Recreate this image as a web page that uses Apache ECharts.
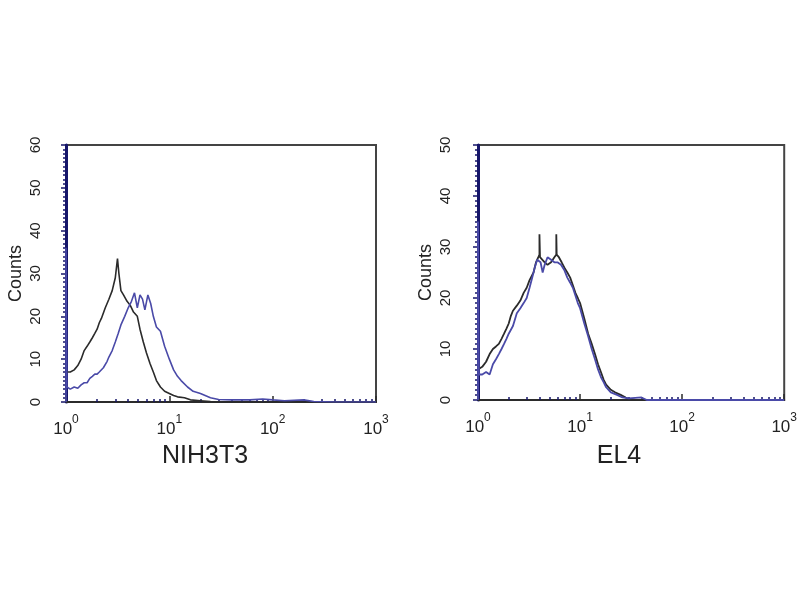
<!DOCTYPE html>
<html><head><meta charset="utf-8">
<script src="https://cdn.jsdelivr.net/npm/echarts@6/dist/echarts.min.js"></script>
<style>html,body{margin:0;padding:0;background:#fff}#c{width:800px;height:600px}</style>
</head><body><div id="c"></div>
<script>
// ---- data ----
const panelTitles = ['NIH3T3', 'EL4'];
const xDecades = [1, 10, 100, 1000];
const minorTickVals = [2,3,4,5,6,7,8,9,20,30,40,50,60,70,80,90,200,300,400,500,600,700,800,900];
const yMaxLeft = 60, yMaxRight = 50;

const nihBlack = [[1,7],[1.1,7],[1.2,7.5],[1.3,8.5],[1.4,10],[1.5,12],[1.6,13],[1.7,14],[1.8,15],[1.9,16],[2.0,17],[2.1,18.5],[2.2,19.5],[2.4,22],[2.6,24],[2.8,26],[3.0,29],[3.1,32],[3.15,33.5],[3.25,30],[3.4,26],[3.6,25],[3.9,23.5],[4.2,22.5],[4.5,21],[4.9,20],[5.2,17],[5.6,14],[6.0,11.5],[6.5,9],[7,7],[7.5,5],[8.2,3.5],[9,2.5],[10,2],[11,1.5],[12,1.2],[14,1],[16,0.5],[20,0.3],[25,0.1],[40,0],[1000,0]];
const nihBlue = [[1,0],[1,36],[1.02,3.5],[1.1,3],[1.2,3.5],[1.3,3.2],[1.4,4],[1.5,4.5],[1.6,4.5],[1.7,5.5],[1.8,6],[1.9,6.5],[2.0,6.5],[2.1,7],[2.3,8],[2.5,9.5],[2.6,10.5],[2.8,12],[3.0,14],[3.2,16],[3.4,18],[3.7,20],[4.0,22],[4.3,23.5],[4.6,25.5],[4.9,22],[5.2,25],[5.5,24],[5.8,21.5],[6.2,25],[6.6,23],[7,20],[7.5,17.5],[8.2,16.5],[9,13],[10,10],[11,7.5],[12,6],[13,5],[15,3.5],[17,2.5],[20,2],[25,1],[30,0.6],[40,0.5],[60,0.5],[80,0.7],[100,0.5],[130,0.3],[200,0.5],[250,0.1],[400,0],[1000,0]];
const el4Black = [[1,6],[1.1,6.5],[1.2,7.5],[1.3,9],[1.4,10],[1.5,10.5],[1.6,11],[1.7,12],[1.8,13],[1.9,14],[2.0,15],[2.1,16.5],[2.2,17.5],[2.4,18.5],[2.6,19.5],[2.8,21],[3.0,22],[3.2,23.5],[3.5,25],[3.7,27],[3.9,28],[4.0,28.5],[4.0,32.5],[4.05,32.5],[4.05,28],[4.2,28],[4.5,27],[4.8,26.5],[5.2,27],[5.6,28],[5.85,28.5],[5.85,32.5],[5.9,32.5],[5.9,28.5],[6.2,28],[6.6,27],[7,26],[7.5,25],[8,24],[8.5,22.5],[9,21],[9.5,20],[10,19],[11,16],[12,13],[13,11],[14,9],[15,7],[16,5.5],[17,4],[18,3],[20,2],[22,1.5],[25,1],[28,0.5],[30,0.2],[35,0],[1000,0]];
const el4Blue = [[1,0],[1,35],[1.02,5],[1.1,5],[1.2,5.5],[1.3,5],[1.4,7],[1.5,8],[1.6,9],[1.7,10],[1.8,11],[1.9,12],[2.0,13],[2.2,14.5],[2.4,17],[2.6,18],[2.8,19],[3.0,20],[3.2,22],[3.4,24],[3.6,26],[3.8,27.5],[4.1,27],[4.3,25],[4.5,26.5],[4.8,28],[5.2,27.5],[5.6,27],[6,27],[6.5,26.5],[7,25.5],[7.5,24],[8,23],[8.5,22],[9,20.5],[9.5,19],[10,18],[11,15],[12,12.5],[13,10],[14,8],[15,6],[16,4.5],[17,3.5],[18,2.5],[20,1.5],[23,1],[26,0.5],[30,0.3],[40,0.5],[45,0],[1000,0]];

const BLACK = '#2b2b2b', BLUE = '#4a4aa8', NAVY = '#16166a', TXT = '#222';

const chart = echarts.init(document.getElementById('c'));
const grids = [
  {left: 66, top: 145, width: 310, height: 257},
  {left: 478, top: 145, width: 309, height: 255}
];
const titlePos = [[205, 456], [619, 456]];
const font = '"Liberation Sans", Arial, sans-serif';

function mainX(i) {
  return {
    type: 'log', logBase: 10, min: 1, max: 1000, gridIndex: i,
    splitLine: {show: false},
    axisLine: {show: true, onZero: false, lineStyle: {color: BLACK, width: 2}},
    axisTick: {show: true, inside: true, length: 6, lineStyle: {color: BLACK, width: 1.5}},
    axisLabel: {
      margin: 12, fontFamily: font, color: TXT,
      formatter: v => '{b|10}{s|' + Math.round(Math.log10(v)) + '}',
      rich: {b: {fontSize: 17, fontFamily: font, color: TXT, padding: [7,0,0,0]},
             s: {fontSize: 12, fontFamily: font, color: TXT, verticalAlign: 'top'}}
    }
  };
}
function minorX(i) {
  return {
    type: 'log', logBase: 10, min: 1, max: 1000, gridIndex: i, position: 'bottom',
    splitLine: {show: false},
    axisLine: {show: false},
    axisLabel: {show: false},
    axisTick: {show: true, inside: true, length: 3, customValues: minorTickVals, lineStyle: {color: NAVY, width: 1.5}}
  };
}
function yAx(i, max, margin, gap) {
  return {
    type: 'value', min: 0, max: max, interval: 10, gridIndex: i,
    splitLine: {show: false},
    axisLine: {show: true, onZero: false, lineStyle: {color: NAVY, width: 3}},
    axisTick: {show: true, length: 5, lineStyle: {color: NAVY, width: 1.5}},
    minorTick: {show: true, splitNumber: 10, length: 3, lineStyle: {color: NAVY, width: 1.5}},
    axisLabel: {rotate: 90, margin: margin, fontSize: 15, fontFamily: font, color: TXT},
    name: 'Counts', nameLocation: 'middle', nameRotate: 90, nameGap: gap,
    nameTextStyle: {fontSize: 18, fontFamily: font, color: TXT}
  };
}
function line(data, color, xi, yi, w) {
  return {type: 'line', data: data, xAxisIndex: xi, yAxisIndex: yi, showSymbol: false, symbol: 'none',
    lineStyle: {color: color, width: w}, clip: true, animation: false, z: color === BLUE ? 3 : 2};
}

chart.setOption({
  animation: false,
  grid: grids.map(g => Object.assign({show: true, borderColor: '#444', borderWidth: 2, backgroundColor: 'transparent'}, g)),
  xAxis: [mainX(0), mainX(1), minorX(0), minorX(1)],
  yAxis: [yAx(0, yMaxLeft, 23, 41), yAx(1, yMaxRight, 25, 43)],
  graphic: panelTitles.map((t, i) => ({
    type: 'text', x: titlePos[i][0], y: titlePos[i][1],
    style: {text: t, font: '25px ' + font, fill: TXT, textAlign: 'center', textVerticalAlign: 'middle'}
  })),
  series: [
    line(nihBlack, BLACK, 0, 0, 1.6),
    line(nihBlue, BLUE, 0, 0, 1.6),
    line(el4Black, BLACK, 1, 1, 1.8),
    line(el4Blue, BLUE, 1, 1, 1.8)
  ]
});
</script></body></html>
